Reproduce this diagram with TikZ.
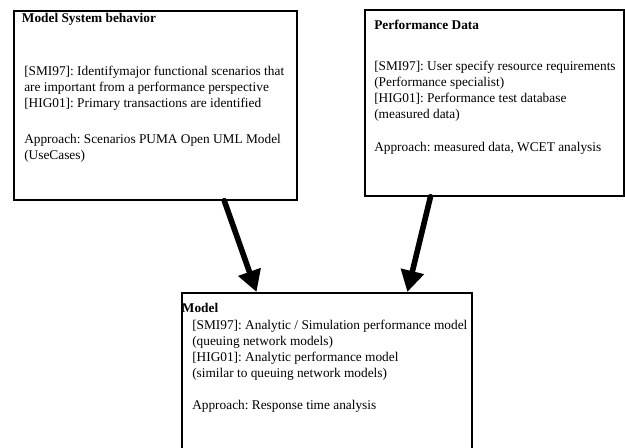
\documentclass[tikz,border=0pt]{standalone}
\usepackage{fontspec}
\setmainfont{Liberation Serif}
\frenchspacing
\usetikzlibrary{positioning,calc,arrows.meta}

\begin{document}
\begin{tikzpicture}[x=0.75pt,y=-0.75pt,>={Triangle[length=16pt,width=17pt]},
  box/.style={draw,line width=1.3pt,rectangle,inner sep=0pt,anchor=north west},
  head/.style={font=\fontsize{10}{12}\selectfont\bfseries,inner sep=0pt},
  body/.style={font=\fontsize{10}{12}\selectfont,align=left,inner sep=0pt},
  big arrow/.style={->,line width=4.2pt,line cap=round}]
   \useasboundingbox (0,0) rectangle (625,448);
   \clip (0,0) rectangle (625,448);
   \node[box,minimum width=212.25pt,minimum height=141.75pt] (sys)  at (13,10)  {};
   \node[box,minimum width=194.25pt,minimum height=139.5pt]  (perf) at (364,9)  {};
   \node[box,minimum width=217.5pt,minimum height=150pt]     (mod)  at (181,292) {};
   \node[head] (sys_t)  [below right=2.6pt and 6.5pt of sys.north west]  {Model System behavior};
   \node[body] (sys_b)  [below right=42pt and 8.25pt of sys.north west]
     {{[SMI97]}: Identifymajor functional scenarios that\\
      are important from a performance perspective\\
      {[HIG01]}: Primary transactions are identified\\[15pt]
      Approach: Scenarios PUMA Open UML Model\\
      (UseCases)};
   \node[head] (perf_t) [below right=8.25pt and 7.5pt of perf.north west] {Performance Data};
   \node[body] (perf_b) [below right=39pt and 7.5pt of perf.north west]
     {{[SMI97]}: User specify resource requirements\\
      (Performance specialist)\\
      {[HIG01]}: Performance test database\\
      (measured data)\\[13pt]
      Approach: measured data, WCET analysis};
   \node[head] (mod_t)  [below right=8.25pt and 0.5pt of mod.north west]  {Model};
   \node[body] (mod_b)  [below right=21pt and 8.25pt of mod.north west]
     {{[SMI97]}: Analytic / Simulation performance model\\
      (queuing network models)\\
      {[HIG01]}: Analytic performance model\\
      (similar to queuing network models)\\[12pt]
      Approach: Response time analysis};
    \draw[big arrow] ($(sys.south west)!0.742!(sys.south east)$)
                  -- ($(mod.north west)!0.259!(mod.north east)$);
    \draw[big arrow] ($(perf.south west)!0.255!(perf.south east)$)
                  -- ($(mod.north west)!0.776!(mod.north east)$);
\end{tikzpicture}
\end{document}
